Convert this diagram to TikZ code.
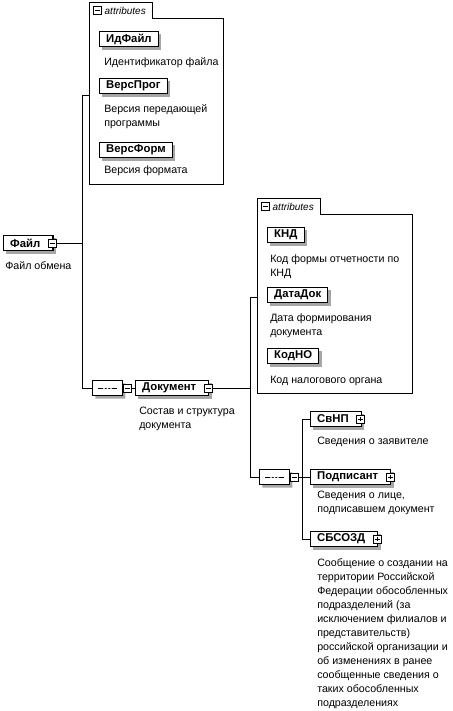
\documentclass[tikz,border=0pt]{standalone}
\usepackage{fontspec}
\setmainfont{Liberation Sans}
\usetikzlibrary{positioning,fit,shadows,shapes.misc}

\begin{document}
\begin{tikzpicture}[
  x=0.75pt, y=-0.75pt,
  elem/.style={draw, line width=0.8pt, fill=white, anchor=west,
               font=\bfseries\fontsize{8.5}{10}\selectfont,
               inner xsep=5pt, inner ysep=0pt, minimum height=11.5pt,
               drop shadow={shadow xshift=2.2pt, shadow yshift=-2.2pt,
                            fill=gray!70, opacity=1}},
  desc/.style={anchor=north west, inner sep=0pt, align=left,
               font=\fontsize{8}{10.5}\selectfont},
  minusic/.style={draw, fill=white, line width=0.6pt, minimum size=6pt, inner sep=0pt,
    path picture={\draw[line width=0.6pt]
      ([xshift=1.2pt]path picture bounding box.west) --
      ([xshift=-1.2pt]path picture bounding box.east);}},
  plusic/.style={draw, fill=white, line width=0.6pt, minimum size=6pt, inner sep=0pt,
    path picture={\draw[line width=0.6pt]
      ([xshift=1.2pt]path picture bounding box.west) --
      ([xshift=-1.2pt]path picture bounding box.east)
      ([yshift=-1.2pt]path picture bounding box.north) --
      ([yshift=1.2pt]path picture bounding box.south);}},
  seqnode/.style={chamfered rectangle, chamfered rectangle xsep=4pt,
    chamfered rectangle ysep=4pt,
    draw, line width=0.8pt, fill=white, anchor=west,
    minimum width=22.5pt, minimum height=11.5pt, inner sep=0pt,
    drop shadow={shadow xshift=2.2pt, shadow yshift=-2.2pt, fill=gray!70, opacity=1},
    path picture={
      \draw[line width=0.6pt] ([xshift=4pt]path picture bounding box.west) --
                              ([xshift=-4pt]path picture bounding box.east);
      \foreach \d in {-2.6pt,0pt,2.6pt}
        \fill ([xshift=\d]path picture bounding box.center) circle (0.85pt);}},
  tabbox/.style={anchor=south west, inner sep=0pt, minimum height=11.5pt,
                 font=\itshape\fontsize{7.5}{9}\selectfont},
  frame/.style={line width=0.75pt},
  conn/.style={line width=0.75pt}
]
\useasboundingbox (0,0) rectangle (453,711);

% --- root ------------------------------------------------------------------
\node[elem] (file) at (3,243) {Файл\kern4.5pt};
\node[minusic] (fileI) at ([xshift=-1pt]file.east) {};
\node[desc] (fileD) at (5,261) {Файл обмена};

% --- attributes of the root ------------------------------------------------
\node[fit={(90,19) (223,184)}, inner sep=0pt] (attrA) {};
\node[tabbox] (tabA) at (attrA.north west) {\kern11pt attributes\kern4.5pt};
\node[minusic, anchor=west] (tabAI) at ([xshift=2.5pt]tabA.west) {};
\draw[frame] (attrA.south west) |- (tabA.north east) |- (attrA.north east)
  |- (attrA.south west) -- cycle;

\node[elem] (idf) at (99,39) {ИдФайл};
\node[desc] (idfD) at (104,57) {Идентификатор файла};
\node[elem] (vprog) at (99,86) {ВерсПрог};
\node[desc] (vprogD) at (104,104) {Версия передающей\\программы};
\node[elem] (vform) at (99,150) {ВерсФорм};
\node[desc] (vformD) at (104,165) {Версия формата};

% --- document ---------------------------------------------------------------
\node[seqnode] (seq1) at (92,388) {};
\node[minusic, anchor=west] (seq1I) at (seq1.east) {};
\node[elem] (doc) at (135,388) {Документ\kern4.5pt};
\node[minusic] (docI) at ([xshift=-1pt]doc.east) {};
\node[desc] (docD) at (139,407) {Состав и структура\\документа};

% --- attributes of the document ---------------------------------------------
\node[fit={(258,215) (412,393)}, inner sep=0pt] (attrB) {};
\node[tabbox] (tabB) at (attrB.north west) {\kern11pt attributes\kern4.5pt};
\node[minusic, anchor=west] (tabBI) at ([xshift=2.5pt]tabB.west) {};
\draw[frame] (attrB.south west) |- (tabB.north east) |- (attrB.north east)
  |- (attrB.south west) -- cycle;

\node[elem] (knd) at (267,235) {КНД};
\node[desc] (kndD) at (270,254) {Код формы отчетности по\\КНД};
\node[elem] (datadok) at (267,295) {ДатаДок};
\node[desc] (datadokD) at (270,313) {Дата формирования\\документа};
\node[elem] (kodno) at (267,356) {КодНО};
\node[desc] (kodnoD) at (270,376) {Код налогового органа};

% --- children of the document ------------------------------------------------
\node[seqnode] (seq2) at (259,477) {};
\node[minusic, anchor=west] (seq2I) at (seq2.east) {};

\node[elem] (svnp) at (310,419) {СвНП\kern4.5pt};
\node[plusic] (svnpI) at ([xshift=-1pt]svnp.east) {};
\node[desc] (svnpD) at (317,437) {Сведения о заявителе};
\node[elem] (podp) at (310,477) {Подписант\kern4.5pt};
\node[plusic] (podpI) at ([xshift=-1pt]podp.east) {};
\node[desc] (podpD) at (317,491) {Сведения о лице,\\подписавшем документ};
\node[elem] (sbsozd) at (310,539) {СБСОЗД\kern4.5pt};
\node[plusic] (sbsozdI) at ([xshift=-1pt]sbsozd.east) {};
\node[desc] (sbsozdD) at (317,558)
  {Сообщение о создании на\\территории Российской\\Федерации обособленных\\подразделений (за\\исключением филиалов и\\представительств)\\российской организации и\\об изменениях в ранее\\сообщенные сведения о\\таких обособленных\\подразделениях};

% --- connectors ----------------------------------------------------------------
\coordinate (busA) at (82,95);
\coordinate (busB) at (250,297);
\coordinate (busC) at (302,419);
\draw[conn] (fileI.east) -- (fileI.east -| busA);
\draw[conn] (attrA.west |- busA) -- (busA) |- (seq1.west);
\draw[conn] (seq1I.east) -- (doc.west);
\draw[conn] (docI.east) -- (docI.east -| busB);
\draw[conn] (attrB.west |- busB) -- (busB) |- (seq2.west);
\draw[conn] (seq2I.east) -- (seq2I.east -| busC);
\draw[conn] (svnp.west) -- (busC) |- (sbsozd.west);
\draw[conn] (podp.west) -- (podp.west -| busC);
\end{tikzpicture}
\end{document}
